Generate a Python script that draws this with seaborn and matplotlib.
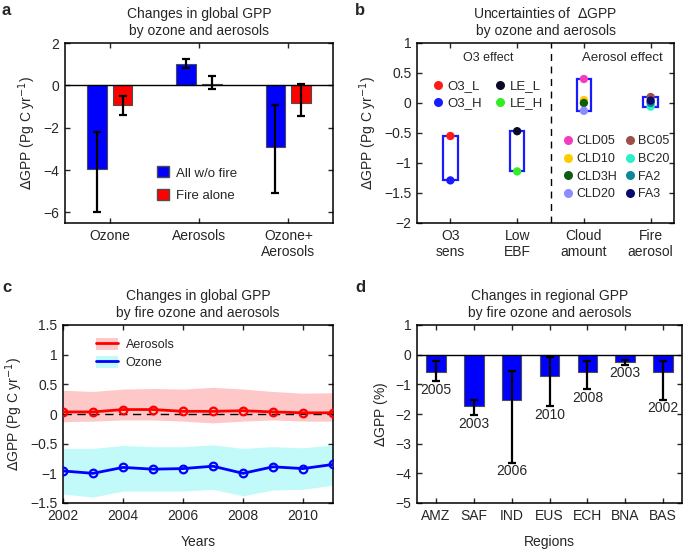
import numpy as np
import pandas as pd
import matplotlib
matplotlib.use('Agg')
import matplotlib.pyplot as plt
import seaborn as sns
from matplotlib.lines import Line2D
from matplotlib.patches import Patch, Rectangle

# ---- panel a: global GPP change by ozone and aerosols
cases = ['Ozone', 'Aerosols', 'Ozone+\nAerosols']
runs = ['All w/o fire', 'Fire alone']
gpp_nofire = [-3.95, 1.0, -2.9]
gpp_fire = [-0.92, 0.05, -0.85]
lo_nofire = [-6.0, 0.8, -5.08]
hi_nofire = [-2.2, 1.25, -0.95]
lo_fire = [-1.38, -0.15, -1.45]
hi_fire = [-0.5, 0.45, 0.05]

# ---- panel b: sensitivity runs
b_groups = ['O3\nsens', 'Low\nEBF', 'Cloud\namount', 'Fire\naerosol']
b_labels = ['O3_L', 'O3_H', 'LE_L', 'LE_H',
            'CLD05', 'CLD10', 'CLD3H', 'CLD20',
            'BC05', 'BC20', 'FA2', 'FA3']
b_group_idx = [0, 0, 1, 1, 2, 2, 2, 2, 3, 3, 3, 3]
b_values = [-0.55, -1.29, -0.47, -1.14,
            0.40, 0.05, 0.0, -0.13,
            0.10, -0.06, 0.0, 0.04]
b_colors = ['#ff1a1a', '#1a1aff', '#0a0a28', '#33ee22',
            '#f23cc0', '#ffcc00', '#0d5c12', '#8a8cff',
            '#9c5148', '#2ef0c8', '#0e8a96', '#0a0a6e']

# ---- panel c: yearly global GPP change from fire pollution
years = list(range(2002, 2012))
aer_mean = [0.035, 0.035, 0.075, 0.075, 0.045, 0.045, 0.055, 0.035, 0.02, 0.02]
aer_lo = [-0.13, -0.12, -0.10, -0.10, -0.12, -0.15, -0.12, -0.10, -0.12, -0.12]
aer_hi = [0.40, 0.38, 0.42, 0.43, 0.42, 0.45, 0.42, 0.38, 0.35, 0.36]
oz_mean = [-0.96, -1.0, -0.9, -0.93, -0.92, -0.88, -1.0, -0.89, -0.92, -0.85]
oz_lo = [-1.35, -1.40, -1.30, -1.30, -1.30, -1.27, -1.38, -1.28, -1.27, -1.20]
oz_hi = [-0.58, -0.58, -0.53, -0.55, -0.55, -0.52, -0.58, -0.55, -0.57, -0.52]

# ---- panel d: regional GPP change
regions = ['AMZ', 'SAF', 'IND', 'EUS', 'ECH', 'BNA', 'BAS']
reg_gpp = [-0.58, -1.72, -1.52, -0.71, -0.60, -0.25, -0.60]
reg_lo = [-0.90, -2.04, -3.65, -1.74, -1.17, -0.34, -1.52]
reg_hi = [-0.20, -1.52, -0.54, -0.08, -0.21, -0.18, -0.21]
peak_year = ['2005', '2003', '2006', '2010', '2008', '2003', '2002']


def px_axes(fig, left, right, top, bottom, W=685, H=549):
    return fig.add_axes([left / W, 1 - bottom / H, (right - left) / W, (bottom - top) / H])


def style_axes(ax):
    ax.tick_params(direction='in', top=True, right=True, length=3.5, width=1,
                   labelsize=10, pad=4)
    for s in ax.spines.values():
        s.set_linewidth(1.1)
        s.set_color('black')


sns.set_theme(style='ticks')
plt.rcParams['font.family'] = ['Liberation Sans', 'DejaVu Sans']
plt.rcParams['axes.unicode_minus'] = True

fig = plt.figure(figsize=(6.85, 5.49), dpi=100)
ylab = r'$\Delta$GPP (Pg C yr$^{-1}$)'

# ================= a =================
ax = px_axes(fig, 65, 333, 43, 223)
df_a = pd.DataFrame({
    'case': cases * 2,
    'run': [runs[0]] * 3 + [runs[1]] * 3,
    'gpp': gpp_nofire + gpp_fire,
})
sns.barplot(data=df_a, x='case', y='gpp', hue='run', order=cases, hue_order=runs,
            palette={runs[0]: '#0000ff', runs[1]: '#ff0000'}, width=0.58, gap=0.24,
            errorbar=None, edgecolor='0.3', linewidth=0.8, saturation=1, ax=ax)
ax.axhline(0, color='black', lw=1, zorder=1)
for cont, lo, hi, mid in zip(ax.containers, [lo_nofire, lo_fire], [hi_nofire, hi_fire],
                             [gpp_nofire, gpp_fire]):
    xs = [p.get_x() + p.get_width() / 2 for p in cont]
    yerr = [np.array(mid) - np.array(lo), np.array(hi) - np.array(mid)]
    ax.errorbar(xs, mid, yerr=yerr, fmt='none', ecolor='black', elinewidth=1.6,
                capsize=3, capthick=1.6, zorder=4)
ax.set_ylim(-6.5, 2)
ax.set_yticks([-6, -4, -2, 0, 2])
ax.set_xlim(-0.5, 2.5)
ax.set_xlabel('')
ax.set_ylabel(ylab, fontsize=10)
ax.set_title('Changes in global GPP\nby ozone and aerosols', fontsize=10, pad=6)
style_axes(ax)
ax.legend(handles=[Patch(facecolor='#0000ff', edgecolor='0.3', label=runs[0]),
                   Patch(facecolor='#ff0000', edgecolor='0.3', label=runs[1])],
          loc='upper left', bbox_to_anchor=(0.30, 0.38), frameon=False, fontsize=9.5,
          handlelength=0.9, handleheight=0.9, handletextpad=0.5, labelspacing=0.75)

# ================= b =================
ax = px_axes(fig, 417, 674, 43, 223)
df_b = pd.DataFrame({'label': b_labels, 'x': [g + 1 for g in b_group_idx], 'gpp': b_values})
for g in range(len(b_groups)):
    vals = df_b.loc[df_b['x'] == g + 1, 'gpp']
    ax.add_patch(Rectangle((g + 1 - 0.11, vals.min()), 0.22, vals.max() - vals.min(),
                           fill=False, edgecolor='#1a1aff', lw=1.6, zorder=2))
sns.scatterplot(data=df_b, x='x', y='gpp', hue='label', hue_order=b_labels,
                palette=dict(zip(b_labels, b_colors)), s=36, edgecolor='none',
                legend=False, zorder=3, ax=ax)
ax.axvline(2.5, color='black', lw=1, ls=(0, (5, 4)))
ax.set_xlim(0.5, 4.35)
ax.set_ylim(-2, 1)
ax.set_xticks([1, 2, 3, 4])
ax.set_xticklabels(b_groups)
ax.set_yticks([-2, -1.5, -1, -0.5, 0, 0.5, 1])
ax.set_yticklabels(['−2', '−1.5', '−1', '−0.5', '0', '0.5', '1'])
ax.set_xlabel('')
ax.set_ylabel(ylab, fontsize=10)
ax.set_title('Uncertainties of  $\\Delta$GPP\nby ozone and aerosols', fontsize=10, pad=6)
style_axes(ax)
ax.text(0.276, 0.915, 'O3 effect', transform=ax.transAxes, ha='center', va='center', fontsize=9)
ax.text(0.80, 0.915, 'Aerosol effect', transform=ax.transAxes, ha='center', va='center', fontsize=9.5)


def dot(lbl, col):
    return Line2D([], [], ls='none', marker='o', markersize=6.5, markerfacecolor=col,
                  markeredgecolor='none', label=lbl)


h1 = [dot(l, c) for l, c in zip(b_labels[:4], b_colors[:4])]
leg1 = ax.legend(handles=h1, ncol=2, loc='upper left', bbox_to_anchor=(0.02, 0.86),
                 frameon=False, fontsize=9.5, handlelength=0.6, handletextpad=0.4,
                 columnspacing=1.1, labelspacing=0.35)
ax.add_artist(leg1)
h2 = [dot(l, c) for l, c in zip(b_labels[4:], b_colors[4:])]
ax.legend(handles=h2, ncol=2, loc='upper left', bbox_to_anchor=(0.53, 0.55),
          frameon=False, fontsize=9, handlelength=0.6, handletextpad=0.35,
          columnspacing=0.7, labelspacing=0.45)

# ================= c =================
ax = px_axes(fig, 63, 333, 325, 503)
df_c = pd.DataFrame({'year': years * 2,
                     'gpp': aer_mean + oz_mean,
                     'source': ['Aerosols'] * 10 + ['Ozone'] * 10})
ax.fill_between(years, aer_lo, aer_hi, color='#ffc8c8', lw=0, zorder=1)
ax.fill_between(years, oz_lo, oz_hi, color='#c2fafa', lw=0, zorder=1)
ax.axhline(0, color='black', lw=1, ls=(0, (6, 4)), zorder=2)
sns.lineplot(data=df_c, x='year', y='gpp', hue='source',
             palette={'Aerosols': '#ff0000', 'Ozone': '#0000ff'}, lw=2,
             marker='o', markersize=5.5, markerfacecolor='none', markeredgewidth=1.6,
             legend=False, zorder=3, ax=ax)
for line, col in zip(ax.lines[1:], ['#ff0000', '#0000ff']):
    line.set_markeredgecolor(col)
ax.set_xlim(2002, 2011)
ax.set_ylim(-1.5, 1.5)
ax.set_xticks([2002, 2004, 2006, 2008, 2010])
ax.set_yticks([-1.5, -1, -0.5, 0, 0.5, 1, 1.5])
ax.set_yticklabels(['−1.5', '−1', '−0.5', '0', '0.5', '1', '1.5'])
ax.set_xlabel('Years', fontsize=10, labelpad=9)
ax.set_ylabel(ylab, fontsize=10)
ax.set_title('Changes in global GPP\nby fire ozone and aerosols', fontsize=10, pad=6)
style_axes(ax)
hc = [(Patch(facecolor='#ffc8c8', edgecolor='none'), Line2D([], [], color='#ff0000', lw=2)),
      (Patch(facecolor='#c2fafa', edgecolor='none'), Line2D([], [], color='#0000ff', lw=2))]
ax.legend(hc, ['Aerosols', 'Ozone'], loc='upper left', bbox_to_anchor=(0.08, 0.99),
          frameon=False, fontsize=9, handlelength=1.8, handleheight=1.1,
          handletextpad=0.6, labelspacing=0.35)

# ================= d =================
ax = px_axes(fig, 417, 682, 325, 503)
df_d = pd.DataFrame({'region': regions, 'gpp': reg_gpp})
sns.barplot(data=df_d, x='region', y='gpp', color='#0000ff', width=0.52,
            errorbar=None, edgecolor='0.3', linewidth=0.8, saturation=1, ax=ax)
ax.axhline(0, color='black', lw=1, zorder=1)
xs = [p.get_x() + p.get_width() / 2 for p in ax.containers[0]]
yerr = [np.array(reg_gpp) - np.array(reg_lo), np.array(reg_hi) - np.array(reg_gpp)]
ax.errorbar(xs, reg_gpp, yerr=yerr, fmt='none', ecolor='black', elinewidth=1.6,
            capsize=3, capthick=1.6, zorder=4)
for x, lo, yr in zip(xs, reg_lo, peak_year):
    ax.annotate(yr, (x, lo), xytext=(0, -1), textcoords='offset points',
                ha='center', va='top', fontsize=10)
ax.set_xlim(-0.5, 6.5)
ax.set_ylim(-5, 1)
ax.set_yticks([-5, -4, -3, -2, -1, 0, 1])
ax.set_xlabel('Regions', fontsize=10, labelpad=9)
ax.set_ylabel(r'$\Delta$GPP (%)', fontsize=10)
ax.set_title('Changes in regional GPP\nby fire ozone and aerosols', fontsize=10, pad=6)
style_axes(ax)

# panel letters
for lbl, x, y in [('a', 2, 3), ('b', 355, 3), ('c', 2, 280), ('d', 355, 280)]:
    fig.text(x / 685, 1 - y / 549, lbl, fontsize=12, fontweight='bold', va='top', ha='left')

fig.savefig('out.png', dpi=100)
